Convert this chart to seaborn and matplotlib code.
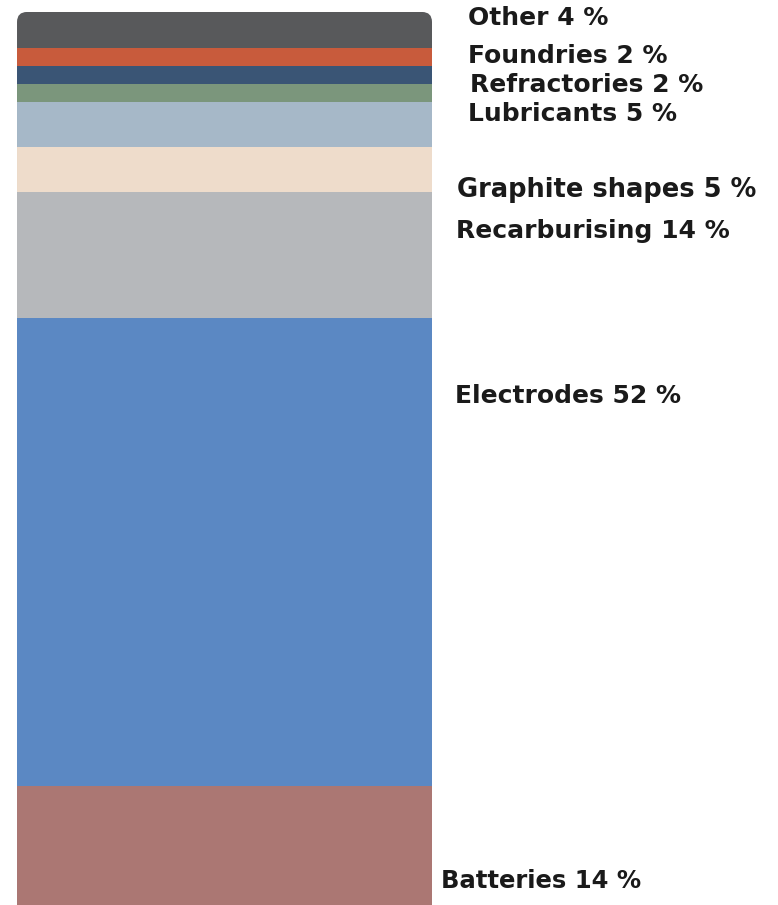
import pandas as pd
import matplotlib
matplotlib.use('Agg')
import matplotlib.pyplot as plt
import seaborn as sns
from matplotlib.patches import FancyBboxPatch
from matplotlib.transforms import IdentityTransform, Bbox

# Segments, bottom to top
segments = ['Batteries', 'Electrodes', 'Recarburising', 'Graphite shapes', 'Lubricants',
            '(unlabelled)', 'Refractories', 'Foundries', 'Other']
shares = [14, 52, 14, 5, 5, 2, 2, 2, 4]
colors = ['#ab7773', '#5b88c3', '#b6b8bb', '#eedccb', '#a6b8c8',
          '#7b967c', '#3a5575', '#c85b3c', '#58595b']

# label placement (left x, baseline y, font size) in pixels from top-left
label_pos = {
    'Other': (468, 25, 18),
    'Foundries': (468, 63, 18),
    'Refractories': (470, 92, 18),
    'Lubricants': (468, 121, 18),
    'Graphite shapes': (457, 197, 18.5),
    'Recarburising': (456, 238, 18),
    'Electrodes': (455, 403, 18),
    'Batteries': (441, 888, 17.5),
}

df = pd.DataFrame({'segment': segments, 'share': shares})
df['cum'] = df['share'].cumsum()
df['bar'] = 'use'

W, H = 778, 905
fig = plt.figure(figsize=(W / 100, H / 100), dpi=100)
ax = fig.add_axes([0, 0, 1, 1])

# draw cumulative bars tallest first so each segment shows on top of the previous
order = segments[::-1]
sns.barplot(data=df, x='bar', y='cum', hue='segment', hue_order=order,
            palette=dict(zip(segments, colors)), dodge=False, width=0.8,
            saturation=1, legend=False, ax=ax)

ax.set_xlim(-0.4328, 1.0670)
ax.set_ylim(0.78, 101.33)
ax.axis('off')

# rounded top corners
ext = Bbox.union([p.get_window_extent() for p in ax.patches])
clip = FancyBboxPatch((ext.x0, ext.y0 - 30), ext.width, ext.height + 30,
                      boxstyle='round,pad=0,rounding_size=10',
                      transform=IdentityTransform(), facecolor='none', edgecolor='none')
for p in ax.patches:
    p.set_clip_path(clip)

for seg, val in zip(segments, shares):
    if seg not in label_pos:
        continue
    x, y, fs = label_pos[seg]
    fig.text(x / W, 1 - y / H, f'{seg} {val} %', fontsize=fs, fontweight='bold',
             color='#1a1a1a', ha='left', va='baseline')

fig.savefig('out.png', dpi=100)
